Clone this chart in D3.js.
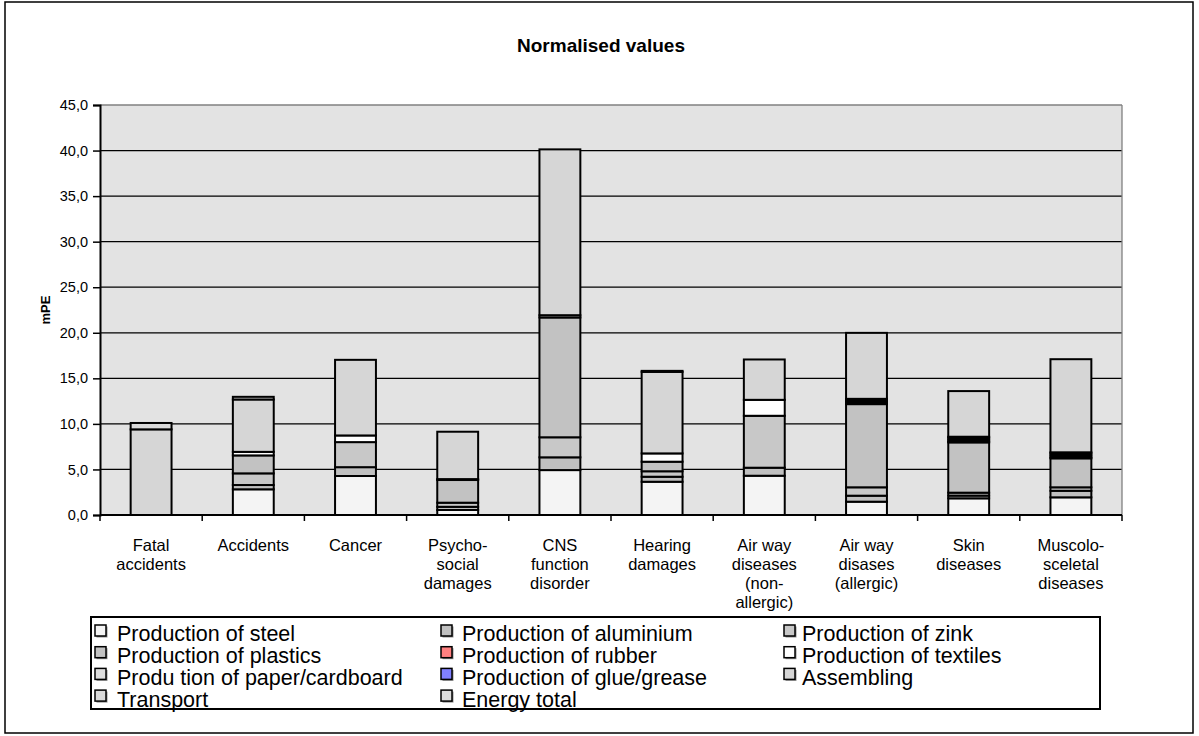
<!DOCTYPE html>
<html>
<head>
<meta charset="utf-8">
<script src="https://cdn.jsdelivr.net/npm/d3@7/dist/d3.min.js"></script>
<style>
  body { margin: 0; background: #fff; }
  svg { display: block; font-family: "Liberation Sans", Arial, sans-serif; }
</style>
</head>
<body>
<svg id="chart" width="1199" height="736"></svg>
<script>
const categories = [
  ["Fatal", "accidents"],
  ["Accidents"],
  ["Cancer"],
  ["Psycho-", "social", "damages"],
  ["CNS", "function", "disorder"],
  ["Hearing", "damages"],
  ["Air way", "diseases", "(non-", "allergic)"],
  ["Air way", "disases", "(allergic)"],
  ["Skin", "diseases"],
  ["Muscolo-", "sceletal", "diseases"]
];
const seriesNames = [
  "Production of steel", "Production of aluminium", "Production of zink",
  "Production of plastics", "Production of rubber", "Production of textiles",
  "Produ tion of paper/cardboard", "Production of glue/grease", "Assembling",
  "Transport", "Energy total"
];
const seriesColors = ["#F4F4F4", "#C0C0C0", "#C8C8C8", "#C2C2C2", "#FF8080", "#FFFFFF",
  "#DDDDDD", "#8080FF", "#D6D6D6", "#DADADA", "#DDDDDD"];

const steel      = [0,    2.82, 4.28, 0.55, 4.93, 3.65, 4.31, 1.46, 1.83, 1.94];
const aluminium  = [0,    0.47, 0.97, 0.35, 1.40, 0.55, 0.88, 0.66, 0.30, 0.72];
const zink       = [0,    1.28, 2.75, 0.45, 2.20, 0.60, 5.70, 0.92, 0.32, 0.38];
const plastics   = [0,    1.97, 0,    2.49, 13.15, 1.05, 0,   9.13, 5.52, 3.18];
const rubber     = [0,    0,    0,    0,    0,    0,    0,    0.10, 0.10, 0.11];
const textiles   = [0,    0.39, 0.73, 0.10, 0.25, 0.91, 1.75, 0.19, 0.21, 0.22];
const paper      = [0,    0,    0,    0,    0,    0,    0,    0.19, 0.21, 0.22];
const glue       = [0,    0,    0,    0,    0,    0,    0,    0.10, 0.10, 0.11];
const assembling = [9.4,  5.75, 8.30, 5.20, 18.20, 8.95, 4.43, 7.24, 5.01, 10.22];
const transport  = [0.7,  0.29, 0,    0,    0,    0.11, 0,    0,    0,    0];
const energy     = [0,    0,    0,    0,    0,    0,    0,    0,    0,    0];
const yTicks = [0, 5, 10, 15, 20, 25, 30, 35, 40, 45];

const seriesValues = [steel, aluminium, zink, plastics, rubber, textiles, paper, glue, assembling, transport, energy];

(function () {
const svg = d3.select("#chart");
const pL = 100, pR = 1122, pT = 105, pB = 515;

// outer frame
svg.append("rect").attr("x", 5).attr("y", 2).attr("width", 1188).attr("height", 731)
  .attr("fill", "#fff").attr("stroke", "#000").attr("stroke-width", 1.5);

// title
svg.append("text").attr("x", 601).attr("y", 52).attr("text-anchor", "middle")
  .attr("font-size", 19).attr("font-weight", "bold").text("Normalised values");

const rows = categories.map((c, i) => {
  const r = { key: i };
  seriesNames.forEach((s, j) => r[s] = seriesValues[j][i]);
  return r;
});

const x = d3.scaleBand().domain(d3.range(categories.length)).range([pL, pR])
  .paddingInner(0.6).paddingOuter(0.3);
const xb = d3.scaleLinear().domain([0, categories.length]).range([pL, pR]);
const y = d3.scaleLinear().domain([0, 45]).range([pB, pT]);

// plot background
svg.append("rect").attr("x", pL).attr("y", pT).attr("width", pR - pL).attr("height", pB - pT)
  .attr("fill", "#E3E3E3");

// gridlines
svg.append("g").selectAll("line").data(yTicks.filter(t => t > 0)).join("line")
  .attr("x1", pL).attr("x2", pR).attr("y1", d => y(d)).attr("y2", d => y(d))
  .attr("stroke", d => d === 45 ? "#808080" : "#000").attr("stroke-width", 1.3);
svg.append("line").attr("x1", pR).attr("x2", pR).attr("y1", pT).attr("y2", pB)
  .attr("stroke", "#808080").attr("stroke-width", 1.3);

// bars
const stacked = d3.stack().keys(seriesNames)(rows);
svg.append("g").selectAll("g").data(stacked).join("g")
  .attr("fill", (d, i) => seriesColors[i])
  .selectAll("rect").data(d => d.filter(p => p[1] - p[0] > 0)).join("rect")
  .attr("x", d => x(d.data.key)).attr("width", x.bandwidth())
  .attr("y", d => y(d[1])).attr("height", d => y(d[0]) - y(d[1]))
  .attr("stroke", "#000").attr("stroke-width", 2);

// y axis
const yAxis = svg.append("g").attr("transform", `translate(${pL},0)`)
  .call(d3.axisLeft(y).tickValues(yTicks).tickSize(7).tickPadding(5)
    .tickFormat(d => d3.format(".1f")(d).replace(".", ",")));
yAxis.select(".domain").attr("stroke", "#000").attr("stroke-width", 2);
yAxis.selectAll(".tick line").attr("stroke", "#000").attr("stroke-width", 1.5);
yAxis.selectAll(".tick text").attr("font-size", 14.5).attr("fill", "#000")
  .attr("font-family", "'Liberation Sans', Arial, sans-serif");

svg.append("text").attr("transform", "translate(50,310) rotate(-90)")
  .attr("text-anchor", "middle").attr("font-size", 13).attr("font-weight", "bold").text("mPE");

// x axis
svg.append("line").attr("x1", pL).attr("x2", pR).attr("y1", pB).attr("y2", pB)
  .attr("stroke", "#000").attr("stroke-width", 2);
svg.append("g").selectAll("line").data(d3.range(categories.length + 1)).join("line")
  .attr("x1", d => xb(d)).attr("x2", d => xb(d)).attr("y1", pB).attr("y2", pB + 6)
  .attr("stroke", "#000").attr("stroke-width", 1.5);

const xl = svg.append("g").selectAll("text").data(categories).join("text")
  .attr("x", (d, i) => x(i) + x.bandwidth() / 2).attr("y", 551)
  .attr("text-anchor", "middle").attr("font-size", 16.5);
xl.selectAll("tspan").data(d => d).join("tspan")
  .attr("x", function() { return this.parentNode.getAttribute("x"); })
  .attr("dy", (d, i) => i === 0 ? 0 : 19).text(d => d);

// legend
const lg = svg.append("g");
lg.append("rect").attr("x", 91).attr("y", 617).attr("width", 1009).attr("height", 92)
  .attr("fill", "#fff").attr("stroke", "#000").attr("stroke-width", 2);
const colBox = [95, 441, 784];
const colText = [117, 462, 802];
const items = seriesNames.map((s, i) => ({ name: s, color: seriesColors[i], col: i % 3, row: Math.floor(i / 3) }));
const it = lg.selectAll("g.item").data(items).join("g").attr("class", "item");
it.append("rect").attr("x", d => colBox[d.col] + 1.5).attr("y", d => 625 + d.row * 21.7 + 1.5)
  .attr("width", 11).attr("height", 11).attr("fill", "#909090");
it.append("rect").attr("x", d => colBox[d.col]).attr("y", d => 625 + d.row * 21.7)
  .attr("width", 11).attr("height", 11).attr("fill", d => d.color)
  .attr("stroke", "#000").attr("stroke-width", 1.5);
it.append("text").attr("x", d => colText[d.col]).attr("y", d => 641 + d.row * 21.9)
  .attr("font-size", 21.5).text(d => d.name);
})();
</script>
</body>
</html>
